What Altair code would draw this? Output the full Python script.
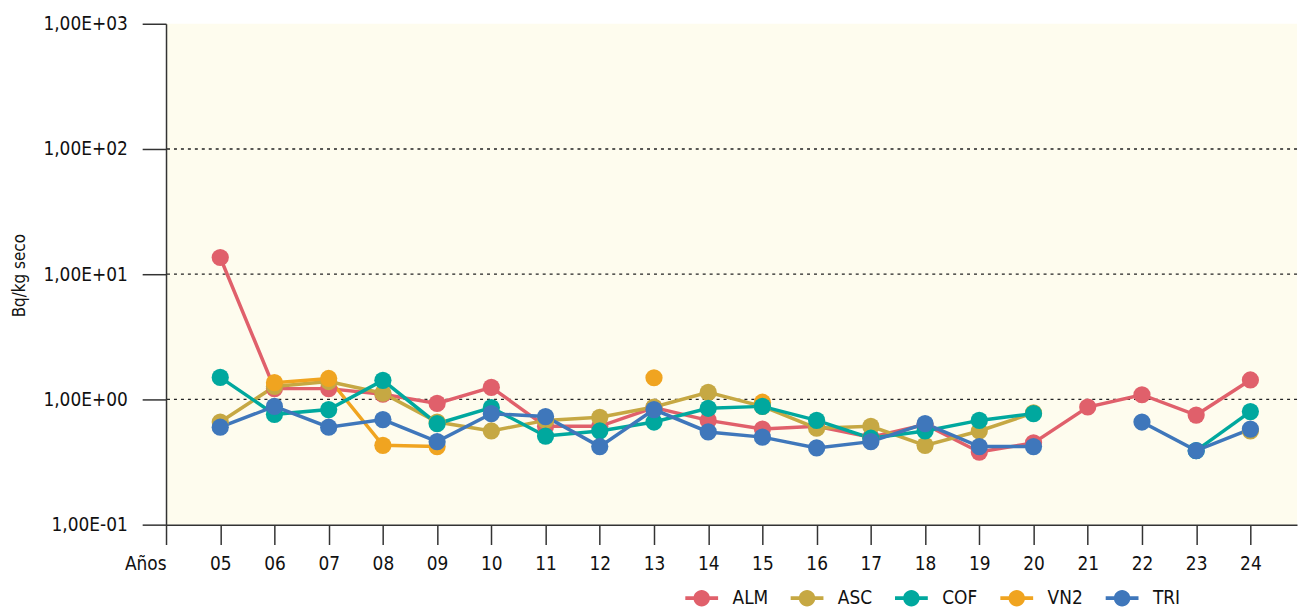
import altair as alt
import pandas as pd

years = list(range(5, 25))
series = ["ALM", "ASC", "COF", "VN2", "TRI"]
colors = ["#E0606B", "#C6A843", "#00A89E", "#F0A420", "#3F77BB"]

ALM = [13.6, 1.22, 1.22, 1.1, 0.93, 1.25, 0.61, 0.61, 0.86, 0.68, 0.58, 0.61, 0.5, 0.63, 0.38, 0.45, 0.87, 1.09, 0.75, 1.43]
ASC = [0.66, 1.27, 1.39, 1.12, 0.66, 0.56, 0.68, 0.72, 0.87, 1.14, 0.88, 0.59, 0.61, 0.43, 0.56, 0.78, None, None, None, 0.56]
COF = [1.5, 0.76, 0.83, 1.42, 0.64, 0.86, 0.51, 0.56, 0.66, 0.85, 0.88, 0.68, 0.49, 0.56, 0.68, 0.77, None, None, 0.39, 0.8]
VN2 = [None, 1.36, 1.47, 0.43, 0.42, None, None, None, 1.49, None, 0.95, None, None, None, None, None, None, None, None, None]
TRI = [0.6, 0.88, 0.6, 0.69, 0.46, 0.77, 0.73, 0.42, 0.83, 0.55, 0.5, 0.41, 0.46, 0.64, 0.42, 0.42, None, 0.66, 0.39, 0.58]
grid_values = [1, 10, 100]
y_ticks = [0.1, 1, 10, 100, 1000]
x_ticks = [4] + years

rows = []
for name, vals in [("ALM", ALM), ("ASC", ASC), ("VN2", VN2), ("COF", COF), ("TRI", TRI)]:
    seg = 0
    prev = False
    for yr, v in zip(years, vals):
        if v is None:
            prev = False
            continue
        if not prev:
            seg += 1
        prev = True
        rows.append({"serie": name, "year": yr, "value": v, "seg": f"{name}-{seg}"})
df = pd.DataFrame(rows)

FONT = "'DejaVu Sans Condensed', 'Liberation Sans Narrow', 'Roboto', sans-serif"
FS = 19

x_enc = alt.X("year:Q", scale=alt.Scale(domain=[4, 24.86], nice=False, zero=False),
              axis=alt.Axis(values=x_ticks, title=None, grid=False, tickSize=20,
                            labelPadding=10, labelFontSize=FS, labelFont=FONT, labelColor="#111",
                            labelOverlap=False, labelFlush=False,
                            labelExpr="datum.value == 4 ? 'Años' : (datum.value < 10 ? '0' : '') + datum.value",
                            labelAlign={"condition": {"test": "datum.value == 4", "value": "right"}, "value": "center"},
                            domainColor="#333", domainWidth=1.5, tickColor="#333", tickWidth=1.5))
y_enc = alt.Y("value:Q", scale=alt.Scale(type="log", domain=[0.1, 1000], nice=False),
              axis=alt.Axis(values=y_ticks, title="Bq/kg seco", grid=False, tickSize=24,
                            labelPadding=15, labelFontSize=FS, labelFont=FONT, labelColor="#111",
                            labelExpr="'1,00E' + (round(log(datum.value)/LN10) < 0 ? '-' : '+') + '0' + abs(round(log(datum.value)/LN10))",
                            titleFont=FONT, titleFontSize=17, titleFontWeight="normal", titleColor="#111",
                            titleX=-147, titleY=253, titleAngle=-90, titleAlign="center", titleBaseline="middle",
                            domainColor="#333", domainWidth=1.5, tickColor="#333", tickWidth=1.5,
                            labelFlush=False, labelOverlap=False))

grid = alt.Chart(pd.DataFrame({"g": grid_values})).mark_rule(
    color="#222", strokeDash=[3, 4], strokeWidth=1.3
).encode(y=alt.Y("g:Q", scale=alt.Scale(type="log", domain=[0.1, 1000], nice=False)))

legend_symbol = ("M-1.5,-0.17L-0.6,-0.17L-0.6,0.17L-1.5,0.17Z"
                 "M0.6,-0.17L1.5,-0.17L1.5,0.17L0.6,0.17Z"
                 "M0.75,0A0.75,0.75,0,1,1,-0.75,0A0.75,0.75,0,1,1,0.75,0Z")

lines = alt.Chart(df).mark_line(strokeWidth=3.5, opacity=1).encode(
    x=x_enc, y=y_enc,
    color=alt.Color("serie:N", scale=alt.Scale(domain=series, range=colors),
                    legend=alt.Legend(title=None, orient="none", direction="horizontal",
                                      legendX=528, legendY=567,
                                      symbolType=legend_symbol, symbolSize=484,
                                      symbolStrokeWidth=0, symbolOpacity=0.85,
                                      labelOffset=20, columnPadding=22,
                                      labelFont=FONT, labelFontSize=FS, labelColor="#111")),
    detail="seg:N",
    order=alt.Order("year:Q"),
)

points = alt.Chart(df).mark_point(filled=True, size=300, opacity=1, shape="circle").encode(
    x=x_enc, y=y_enc,
    color=alt.Color("serie:N"),
)

chart = alt.layer(grid, lines, points).properties(
    width=1138, height=504,
    autosize=alt.AutoSizeParams(type="none"),
    padding={"left": 159, "top": 14, "right": 3, "bottom": 81},
).configure_view(fill="#FEFCEE", stroke=None)

chart.save("out.html", embed_options={"renderer": "svg", "actions": False})
